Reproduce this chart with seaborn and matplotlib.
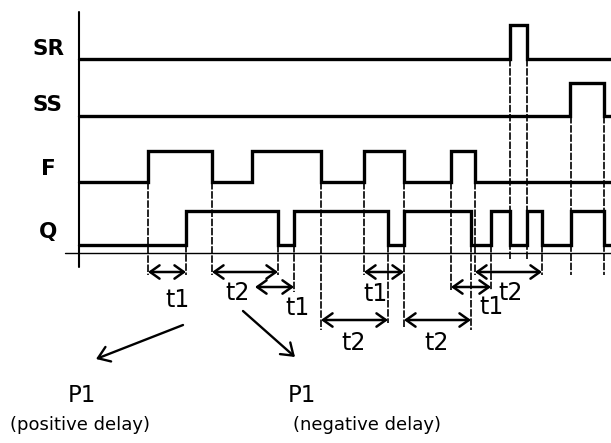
import pandas as pd
import matplotlib
matplotlib.use('Agg')
import matplotlib.pyplot as plt
import seaborn as sns

# edge times (px along the time axis) and logic level after each edge
sr_t = [79, 510, 527, 611]
sr_v = [0, 1, 0, 0]
ss_t = [79, 570, 604, 611]
ss_v = [0, 1, 0, 0]
f_t = [79, 148, 212, 252, 321, 364, 404, 451, 475, 611]
f_v = [0, 1, 0, 1, 0, 1, 0, 1, 0, 0]
q_t = [79, 186, 278, 294, 388, 404, 471, 491, 510, 527, 542, 571, 604, 611]
q_v = [0, 1, 0, 1, 0, 1, 0, 1, 0, 1, 0, 1, 0, 0]

signal_names = ['SR', 'SS', 'F', 'Q']

# measured delays: start edge, end edge, name
delay_start = [148, 212, 255, 321, 364, 404, 451, 475]
delay_end = [186, 278, 294, 388, 404, 471, 491, 542]
delay_name = ['t1', 't2', 't1', 't2', 't1', 't2', 't1', 't2']

sns.set_theme(style='white')
plt.rcParams['font.family'] = ['DejaVu Sans']
plt.rcParams['text.color'] = 'black'

# lane layout: baseline and pulse height (px, y grows downward)
lane_base = {'SR': 59, 'SS': 116, 'F': 182, 'Q': 245}
lane_amp = {'SR': 34, 'SS': 33, 'F': 31, 'Q': 34}
lane_label_y = {'SR': 49, 'SS': 105, 'F': 169, 'Q': 232}

frames = []
for name, t, v in zip(signal_names, [sr_t, ss_t, f_t, q_t], [sr_v, ss_v, f_v, q_v]):
    frames.append(pd.DataFrame({'signal': name, 'time': t, 'level': v}))
sig = pd.concat(frames, ignore_index=True)
sig['y'] = sig['signal'].map(lane_base) - sig['level'] * sig['signal'].map(lane_amp)

fig = plt.figure(figsize=(6.11, 4.43), dpi=100)
ax = fig.add_axes([0, 0, 1, 1])

# dashed guide lines from the edges (x, top, bottom)
guides = [(148, 182, 275), (186, 245, 275), (212, 182, 275), (278, 245, 275),
          (294, 245, 292), (321, 182, 330), (364, 182, 275), (388, 245, 323),
          (404, 182, 328), (451, 182, 290), (471, 245, 330), (475, 182, 275),
          (491, 245, 290), (510, 59, 260), (527, 59, 260), (542, 245, 275),
          (571, 116, 275), (604, 116, 275)]
for gx, top, bot in guides:
    ax.plot([gx, gx], [top, bot], color='black', lw=1.2,
            linestyle=(0, (4.5, 1.0)), zorder=1)

for name in signal_names:
    sns.lineplot(data=sig[sig['signal'] == name], x='time', y='y', ax=ax,
                 estimator=None, sort=False, drawstyle='steps-post',
                 color='black', lw=2.4, solid_joinstyle='miter', zorder=3)

# axes
ax.plot([79, 79], [12, 267], color='black', lw=1.5, zorder=2)
ax.plot([65, 611], [253, 253], color='black', lw=1.0, zorder=2)

for name in signal_names:
    ax.text(48, lane_label_y[name], name, ha='center', va='center',
            fontsize=15.5, fontweight='bold', color='black')

# delay arrows
arrow_y = [272, 272, 287, 320, 272, 320, 287, 272]
label_xy = [(177, 300), (238, 293), (297, 308), (354, 343),
            (376, 294), (437, 343), (492, 307), (511, 293)]
for s, e, lab, ay, (lx, ly) in zip(delay_start, delay_end, delay_name, arrow_y, label_xy):
    ax.annotate('', xy=(e, ay), xytext=(s, ay),
                arrowprops=dict(arrowstyle='<->,head_length=0.45,head_width=0.32',
                                lw=1.8, color='black', mutation_scale=15,
                                shrinkA=0, shrinkB=0))
    ax.text(lx, ly, lab, ha='center', va='center', fontsize=17, color='black')

# pointers to the two cases
for (x0, y0), (x1, y1) in [((183, 325), (96, 359)), ((243, 311), (295, 357))]:
    ax.annotate('', xy=(x1, y1), xytext=(x0, y0),
                arrowprops=dict(arrowstyle='->,head_length=0.5,head_width=0.35',
                                lw=1.7, color='black', mutation_scale=16,
                                shrinkA=0, shrinkB=0))

ax.text(82, 396, 'P1', ha='center', va='center', fontsize=16.5, color='black')
ax.text(80, 425, '(positive delay)', ha='center', va='center', fontsize=13, color='black')
ax.text(302, 396, 'P1', ha='center', va='center', fontsize=16.5, color='black')
ax.text(367, 425, '(negative delay)', ha='center', va='center', fontsize=13, color='black')

ax.set_xlim(0, 611)
ax.set_ylim(443, 0)
ax.axis('off')
fig.savefig('out.png', dpi=100)
